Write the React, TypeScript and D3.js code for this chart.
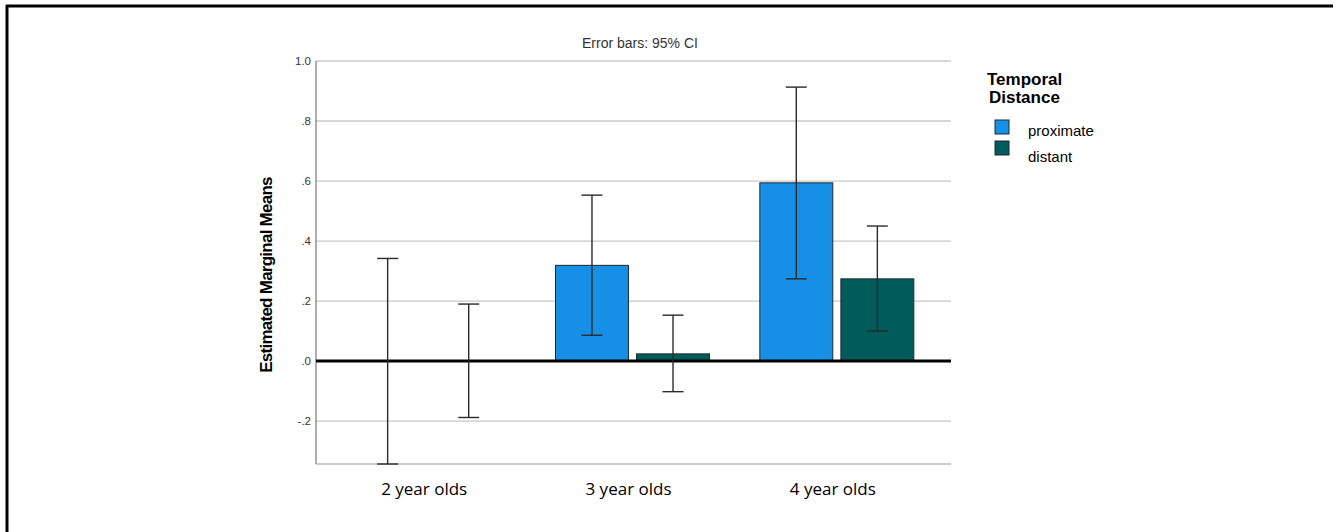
import React from "react";
import * as d3 from "d3";

const categories = ["2 year olds", "3 year olds", "4 year olds"];
const seriesNames = ["proximate", "distant"];
const proximateMeans = [0, 0.319, 0.594];
const proximateLower = [-0.343, 0.086, 0.274];
const proximateUpper = [0.342, 0.553, 0.913];
const distantMeans = [0, 0.024, 0.274];
const distantLower = [-0.188, -0.102, 0.1];
const distantUpper = [0.19, 0.153, 0.45];
const yTicks = [-0.2, 0, 0.2, 0.4, 0.6, 0.8, 1.0];
const tickLabels = ["-.2", ".0", ".2", ".4", ".6", ".8", "1.0"];
const colors = ["#1690e6", "#005b5b"];

const series = [
  { name: seriesNames[0], means: proximateMeans, lower: proximateLower, upper: proximateUpper, color: colors[0] },
  { name: seriesNames[1], means: distantMeans, lower: distantLower, upper: distantUpper, color: colors[1] },
];

export default function App() {
  const W = 1342, H = 532;
  const left = 316, right = 949, top = 61, bottom = 464;
  const y = d3.scaleLinear().domain([-0.343, 1.0]).range([bottom, top]);
  const x = d3.scalePoint<string>().domain(categories).range([left, right]).padding(0.549);
  const sub = d3.scaleBand<string>().domain(seriesNames).range([-77, 77]).paddingInner(0.1);
  const bw = sub.bandwidth();
  const font = "'Liberation Sans', Arial, sans-serif";
  const cap = 10.5;

  return (
    <svg width={W} height={H} style={{ position: "absolute", left: 0, top: 0, background: "#fff" }}>
      <rect x={0} y={0} width={W} height={H} fill="#fff" />
      {/* outer frame */}
      <line x1={6} x2={1333} y1={6} y2={6} stroke="#000" strokeWidth={3} />
      <line x1={7} x2={7} y1={5} y2={H} stroke="#000" strokeWidth={3} />

      <text x={640} y={48} textAnchor="middle" fontFamily={font} fontSize={14} fill="#333">
        Error bars: 95% CI
      </text>

      {/* gridlines */}
      {yTicks.map((t) => (
        <line key={t} x1={left} x2={right + 2} y1={y(t)} y2={y(t)} stroke="#c8c8c8" strokeWidth={1.3} />
      ))}
      {/* axes */}
      <line x1={left} x2={left} y1={top} y2={bottom} stroke="#777" strokeWidth={1.2} />
      <line x1={left} x2={right + 2} y1={bottom} y2={bottom} stroke="#999" strokeWidth={1.2} />

      {yTicks.map((t, i) => (
        <text key={t} x={left - 5} y={y(t) + 4} textAnchor="end" fontFamily={font} fontSize={11.5} fill="#333">
          {tickLabels[i]}
        </text>
      ))}

      <text
        transform={`translate(272, 275) rotate(-90)`}
        textAnchor="middle"
        fontFamily={font}
        fontSize={17}
        fontWeight="bold"
        letterSpacing={-0.75}
        fill="#000"
      >
        Estimated Marginal Means
      </text>

      {/* bars */}
      {series.map((s) =>
        categories.map((c, i) => {
          const x0 = (x(c) as number) + (sub(s.name) as number);
          const v = s.means[i];
          if (Math.abs(v) < 0.001) return null;
          return (
            <rect
              key={s.name + c}
              x={x0}
              y={y(Math.max(v, 0))}
              width={bw}
              height={Math.abs(y(v) - y(0))}
              fill={s.color}
              stroke="#1e2a30"
              strokeWidth={1}
            />
          );
        })
      )}

      {/* zero line */}
      <line x1={left} x2={right + 2} y1={y(0)} y2={y(0)} stroke="#000" strokeWidth={3} />

      {/* error bars */}
      {series.map((s) =>
        categories.map((c, i) => {
          const cx = (x(c) as number) + (sub(s.name) as number) + bw / 2;
          return (
            <g key={"e" + s.name + c} stroke="#2a2a2a" strokeWidth={1.4}>
              <line x1={cx} x2={cx} y1={y(s.upper[i])} y2={y(s.lower[i])} />
              <line x1={cx - cap} x2={cx + cap} y1={y(s.upper[i])} y2={y(s.upper[i])} />
              <line x1={cx - cap} x2={cx + cap} y1={y(s.lower[i])} y2={y(s.lower[i])} />
            </g>
          );
        })
      )}

      {categories.map((c) => (
        <text key={c} x={(x(c) as number) - 4} y={495} textAnchor="middle" fontFamily="'Open Sans', Carlito, sans-serif" fontSize={17} fill="#000">
          {c}
        </text>
      ))}

      {/* legend */}
      <text x={987} y={85} fontFamily={font} fontSize={17} fontWeight="bold" fill="#000">Temporal</text>
      <text x={989} y={103} fontFamily={font} fontSize={17} fontWeight="bold" fill="#000">Distance</text>
      {series.map((s, i) => (
        <g key={"l" + s.name}>
          <rect x={995} y={120 + i * 21} width={14} height={14} fill={s.color} stroke="#1e2a30" strokeWidth={1} />
          <text x={1028} y={136 + i * 26} fontFamily={font} fontSize={15} fill="#000">{s.name}</text>
        </g>
      ))}
    </svg>
  );
}
